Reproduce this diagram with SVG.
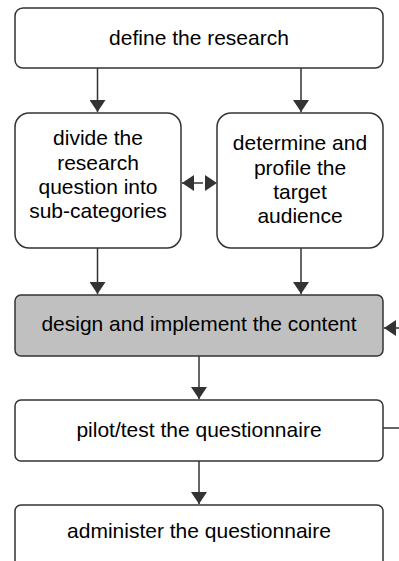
<svg xmlns="http://www.w3.org/2000/svg" width="399" height="561" viewBox="0 0 399 561">
<style>
.box{fill:#fff;stroke:#333;stroke-width:1.5}
.grey{fill:#c0c0c0}
.t{font-family:"Liberation Sans",Arial,sans-serif;font-size:21px;fill:#000;text-anchor:middle}
.c{fill:none;stroke:#333;stroke-width:1.5}
</style>
<defs>
<marker id="ah" viewBox="0 0 12 16" refX="12" refY="8" markerWidth="12" markerHeight="16" markerUnits="userSpaceOnUse" orient="auto">
<path d="M0,0 L12,8 L0,16 Z" fill="#333"/>
</marker>
</defs>
<g id="connectors">
<path class="c" d="M97.5,68 V112" marker-end="url(#ah)"/>
<path class="c" d="M301,68 V112" marker-end="url(#ah)"/>
<path class="c" d="M97.5,248 V294" marker-end="url(#ah)"/>
<path class="c" d="M301,248 V294" marker-end="url(#ah)"/>
<path class="c" d="M199,356 V399" marker-end="url(#ah)"/>
<path class="c" d="M199,461 V504" marker-end="url(#ah)"/>
<path class="c" d="M201,183 H182" marker-end="url(#ah)"/>
<path class="c" d="M201,183 H217" marker-end="url(#ah)" stroke-dasharray="2 2"/>
<path class="c" d="M383,428 H405 V328 H384" marker-end="url(#ah)"/>
</g>
<g id="define">
<rect class="box" x="15" y="8" width="368" height="60" rx="8"/>
<text class="t" x="199" y="45">define the research</text>
</g>
<g id="divide">
<rect class="box" x="15" y="113" width="166" height="135" rx="14"/>
<text class="t" x="98" y="145">divide the</text>
<text class="t" x="98" y="170">research</text>
<text class="t" x="98" y="194">question into</text>
<text class="t" x="98" y="218">sub-categories</text>
</g>
<g id="determine">
<rect class="box" x="217" y="113" width="166" height="135" rx="14"/>
<text class="t" x="300" y="150">determine and</text>
<text class="t" x="300" y="175">profile the</text>
<text class="t" x="300" y="199">target</text>
<text class="t" x="300" y="223">audience</text>
</g>
<g id="design">
<rect class="box grey" x="15" y="295" width="368" height="61" rx="6"/>
<text class="t" x="199" y="331">design and implement the content</text>
</g>
<g id="pilot">
<rect class="box" x="15" y="400" width="368" height="61" rx="6"/>
<text class="t" x="199" y="437">pilot/test the questionnaire</text>
</g>
<g id="administer">
<rect class="box" x="15" y="505" width="368" height="70" rx="6"/>
<text class="t" x="199" y="538">administer the questionnaire</text>
</g>
</svg>
